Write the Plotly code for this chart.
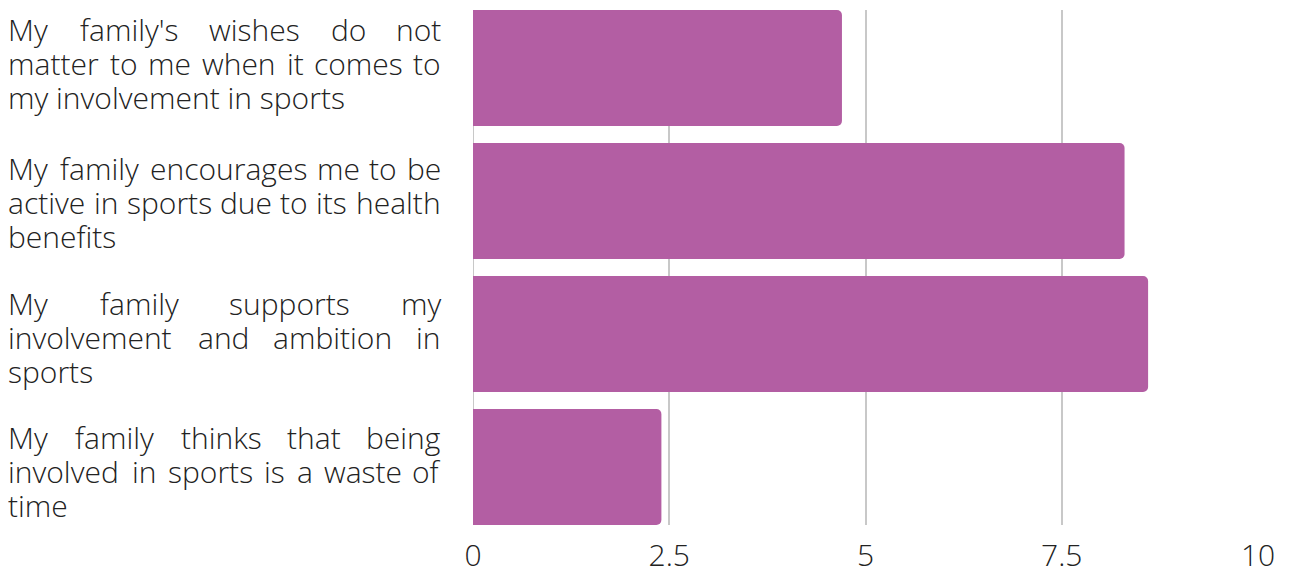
import plotly.graph_objects as go

categories = [
    "My family's wishes do not matter to me when it comes to my involvement in sports",
    "My family encourages me to be active in sports due to its health benefits",
    "My family supports my involvement and ambition in sports",
    "My family thinks that being involved in sports is a waste of time",
]
label_lines = [
    ["My family's wishes do not", "matter to me when it comes to", "my involvement in sports"],
    ["My family encourages me to be", "active in sports due to its health", "benefits"],
    ["My family supports my", "involvement and ambition in", "sports"],
    ["My family thinks that being", "involved in sports is a waste of", "time"],
]
values = [4.7, 8.3, 8.6, 2.4]
tick_vals = [0, 2.5, 5, 7.5, 10]
tick_text = ["0", "2.5", "5", "7.5", "10"]

FONT = "Open Sans"
FS = 30
TEXT_COLOR = "#222222"

# page is offset by the 8px body margin
OFF = 8
W, H = 1289 - OFF, 574 - OFF
ml, mr, mt, mb = 473 - OFF, 31, 10 - OFF, 49
plot_w = W - ml - mr
plot_h = H - mt - mb
y_lo, y_hi = -0.436, 3.436
px_per_unit = plot_h / (y_hi - y_lo)

# approximate Open Sans advance widths (units per em = 2048)
ADV = {" ": 532, "'": 354, "a": 1139, "b": 1255, "c": 975, "d": 1255, "e": 1149,
       "f": 694, "g": 1122, "h": 1257, "i": 518, "k": 1075, "l": 518, "m": 1905,
       "n": 1257, "o": 1237, "p": 1255, "r": 836, "s": 977, "t": 723, "u": 1257,
       "v": 1026, "w": 1593, "y": 1028, "M": 1853}
SCALE = 0.965


def text_w(s):
    return sum(ADV.get(c, 1100) for c in s) / 2048 * FS * SCALE


TXT_L, TXT_R = 8, 441  # page x of label block


def to_paper_x(px):
    return (px - 473) / plot_w


fig = go.Figure(go.Bar(
    x=values, y=categories, orientation="h",
    marker=dict(color="#b35ea3", line=dict(width=0)),
    width=0.872,
))

font = dict(family=FONT, size=FS, color=TEXT_COLOR, weight=300)
annotations = []
LINE_GAP = 34.0
FIRST_OFF = -38.0  # px from category centre to the first line's box middle
LABEL_SHIFT = [-0.5, 5.0, 7.5, 8.0]  # small per-label vertical adjustments (px)


def ann(xpx, yv, xa, txt):
    return dict(x=to_paper_x(xpx), xref="paper", y=yv, yref="y",
                xanchor=xa, yanchor="middle", text=txt, showarrow=False,
                font=font, borderpad=0, borderwidth=0)


for ci, lines in enumerate(label_lines):
    for li, line in enumerate(lines):
        yv = ci + (FIRST_OFF + LABEL_SHIFT[ci] + LINE_GAP * li) / px_per_unit
        words = line.split(" ")
        last = li == len(lines) - 1
        if last or len(words) == 1:
            annotations.append(ann(TXT_L, yv, "left", line))
            continue
        widths = [text_w(w) for w in words]
        gap = (TXT_R - TXT_L - sum(widths)) / (len(words) - 1)
        x = TXT_L
        for wi, (word, ww) in enumerate(zip(words, widths)):
            if wi == 0:
                xa, xpos = "left", x
            elif wi == len(words) - 1:
                xa, xpos = "right", TXT_R
            else:
                xa, xpos = "center", x + ww / 2
            annotations.append(ann(xpos, yv, xa, word))
            x += ww + gap

fig.update_layout(
    width=W, height=H,
    margin=dict(l=ml, r=mr, t=mt, b=mb, pad=0, autoexpand=False),
    paper_bgcolor="white", plot_bgcolor="white",
    barcornerradius=5,
    showlegend=False,
    annotations=annotations,
    xaxis=dict(range=[0, 10], tickvals=tick_vals, ticktext=tick_text,
               showgrid=True, gridcolor="#c8c8c8", gridwidth=2,
               zeroline=False, showline=False, ticks="", automargin=False,
               tickfont=dict(family=FONT, size=FS, color=TEXT_COLOR, weight=300),
               ticklabelstandoff=10),
    yaxis=dict(type="category", range=[y_hi, y_lo], showticklabels=False,
               showgrid=False, zeroline=False, showline=False, ticks="",
               automargin=False),
)
fig.add_shape(type="line", xref="x", yref="paper", x0=0, x1=0, y0=0, y1=1,
              line=dict(color="#c8c8c8", width=2), layer="below")

fig.write_html("out.html")
